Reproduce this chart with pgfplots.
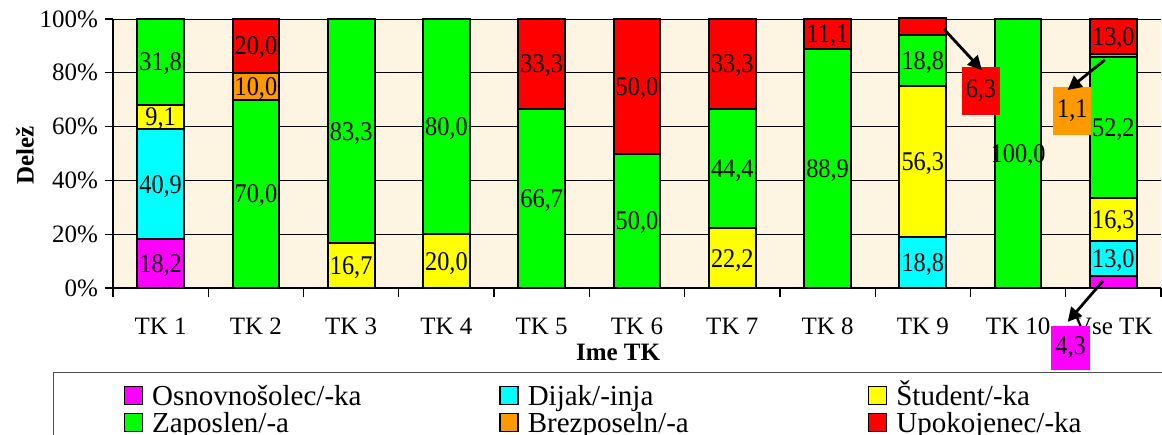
\documentclass[border=0pt]{standalone}
\usepackage{pgfplots}
\pgfplotsset{compat=1.18}
\usepackage{pgfplotstable}
\usepackage{fontspec}
\setmainfont{Liberation Serif}
\newfontfamily\lblfont[FakeStretch=0.9]{Liberation Serif}
\usetikzlibrary{arrows.meta}

\definecolor{cMag}{RGB}{255,0,255}
\definecolor{cCyan}{RGB}{0,255,255}
\definecolor{cYel}{RGB}{255,255,0}
\definecolor{cGreen}{RGB}{0,255,0}
\definecolor{cOrange}{RGB}{255,153,0}
\definecolor{cRed}{RGB}{255,0,0}
\definecolor{cBg}{RGB}{253,245,225}

% shares in %, one row per TK; l* = text printed in the bar segment
\pgfplotstableread{
x  a    b    c    d     e    f    la    lb    lc    ld     le    lf
0  18.2 40.9 9.1  31.8  0    0    18,2  40,9  9,1   31,8   {}    {}
1  0    0    0    70.0  10.0 20.0 {}    {}    {}    70,0   10,0  20,0
2  0    0    16.7 83.3  0    0    {}    {}    16,7  83,3   {}    {}
3  0    0    20.0 80.0  0    0    {}    {}    20,0  80,0   {}    {}
4  0    0    0    66.7  0    33.3 {}    {}    {}    66,7   {}    33,3
5  0    0    0    50.0  0    50.0 {}    {}    {}    50,0   {}    50,0
6  0    0    22.2 44.4  0    33.3 {}    {}    22,2  44,4   {}    33,3
7  0    0    0    88.9  0    11.1 {}    {}    {}    88,9   {}    11,1
8  0    18.8 56.3 18.8  0    6.3  {}    18,8  56,3  18,8   {}    {}
9  0    0    0    100.0 0    0    {}    {}    {}    100,0  {}    {}
10 4.3  13.0 16.3 52.2  1.1  13.0 {}    13,0  16,3  52,2   {}    13,0
}\data

\tikzset{
  callout/.style={inner sep=0pt, minimum width=19pt, minimum height=24pt,
    font=\lblfont\fontsize{13.5}{15}\selectfont},
}
\pgfplotsset{
  frame/.style={at={(0,0)}, anchor=south west,
    scale only axis, width=524pt, height=134.5pt,
    xmin=-0.5, xmax=10.5, ymin=0, ymax=100, clip=false},
  lbl/.style={only marks, mark=*, mark size=0pt,
    mark options={draw=none, fill=none},
    point meta=explicit symbolic, nodes near coords,
    nodes near coords style={anchor=center, inner sep=0pt, text depth=0pt,
      font=\lblfont\fontsize{13.5}{15}\selectfont}},
}
\newcommand\legtext[2]{\makebox[#1][l]{\fontsize{14.5}{16}\selectfont\hspace{4.5pt}#2}}

\begin{document}
\begin{tikzpicture}
\useasboundingbox (-56.5pt,-73pt) rectangle (524.5pt,144pt);
\begin{axis}[
  frame,
  ybar stacked, bar width=0.49,
  axis x line*=bottom, axis y line*=left,
  axis line style={-, black, line width=0.6pt},
  axis background/.style={fill=cBg},
  xtick={0,...,10},
  xticklabels={TK 1,TK 2,TK 3,TK 4,TK 5,TK 6,TK 7,TK 8,TK 9,TK 10,Vse TK},
  minor xtick={-0.5,0.5,...,10.5},
  major x tick style={draw=none},
  minor x tick style={black, line width=0.6pt},
  tick align=outside, major tick length=4pt, minor tick length=4.5pt,
  y tick style={black, line width=0.6pt},
  ytick={0,20,...,100},
  yticklabels={0\%,20\%,40\%,60\%,80\%,100\%},
  ymajorgrids, grid style={black, line width=0.5pt},
  tick label style={font=\fontsize{12.5}{14}\selectfont},
  xticklabel style={yshift=-7.5pt},
  xlabel={Ime TK}, ylabel={Delež},
  label style={font=\bfseries\fontsize{12.5}{14}\selectfont},
  xlabel style={at={(axis description cs:0.482,-0.238)}, anchor=center},
  ylabel style={at={(axis description cs:-0.084,0.494)}, anchor=center},
  legend columns=3,
  legend style={at={(-0.0573,-0.312)}, anchor=north west,
    draw=black!70, line width=0.6pt, fill=white,
    inner xsep=35pt, inner ysep=6.5pt,
    cells={anchor=base west},
    nodes={inner sep=0pt, text height=10pt, text depth=3.5pt}},
  legend image code/.code={\draw[#1, line width=0.8pt, draw=black] (0pt,0.5pt) rectangle (9pt,9.5pt);},
  every axis plot/.append style={draw=black, line width=1pt},
]
\addplot[fill=cMag] table[x=x, y=a] {\data};
\addlegendentry{\legtext{178pt}{Osnovnošolec/-ka}}
\addplot[fill=cCyan] table[x=x, y=b] {\data};
\addlegendentry{\legtext{174.5pt}{Dijak/-inja}}
\addplot[fill=cYel] table[x=x, y=c] {\data};
\addlegendentry{\legtext{150pt}{Študent/-ka}}
\addplot[fill=cGreen] table[x=x, y=d] {\data};
\addlegendentry{\legtext{178pt}{Zaposlen/-a}}
\addplot[fill=cOrange] table[x=x, y=e] {\data};
\addlegendentry{\legtext{174.5pt}{Brezposeln/-a}}
\addplot[fill=cRed] table[x=x, y=f] {\data};
\addlegendentry{\legtext{150pt}{Upokojenec/-ka}}
\end{axis}

% second, hidden axis: value labels in the middle of each segment
\begin{axis}[frame, hide axis]
\addplot[lbl] table[x=x, y expr=\thisrow{a}/2, meta=la] {\data};
\addplot[lbl] table[x=x, y expr=\thisrow{a}+\thisrow{b}/2, meta=lb] {\data};
\addplot[lbl] table[x=x, y expr=\thisrow{a}+\thisrow{b}+\thisrow{c}/2, meta=lc] {\data};
\addplot[lbl] table[x=x, y expr=\thisrow{a}+\thisrow{b}+\thisrow{c}+\thisrow{d}/2, meta=ld] {\data};
\addplot[lbl] table[x=x, y expr=\thisrow{a}+\thisrow{b}+\thisrow{c}+\thisrow{d}+\thisrow{e}/2, meta=le] {\data};
\addplot[lbl] table[x=x, y expr=\thisrow{a}+\thisrow{b}+\thisrow{c}+\thisrow{d}+\thisrow{e}+\thisrow{f}/2, meta=lf] {\data};

% values too small to print inside their bars
\node[callout, fill=cRed] at (axis cs:8.61,73.2) {6,3};
\node[callout, fill=cOrange] at (axis cs:9.57,65.8) {1,1};
\node[callout, fill=cMag, minimum height=22pt] at (axis cs:9.55,-22.3) {4,3};
\draw[-{Triangle[length=7pt,width=7pt]}, line width=1.4pt] (axis cs:8.22,96.3) -- (axis cs:8.62,81);
\draw[-{Triangle[length=7pt,width=7pt]}, line width=1.4pt] (axis cs:9.91,84.8) -- (axis cs:9.52,73.6);
\draw[-{Triangle[length=7pt,width=7pt]}, line width=1.4pt] (axis cs:9.89,2.6) -- (axis cs:9.52,-12.6);
\end{axis}
\end{tikzpicture}
\end{document}
